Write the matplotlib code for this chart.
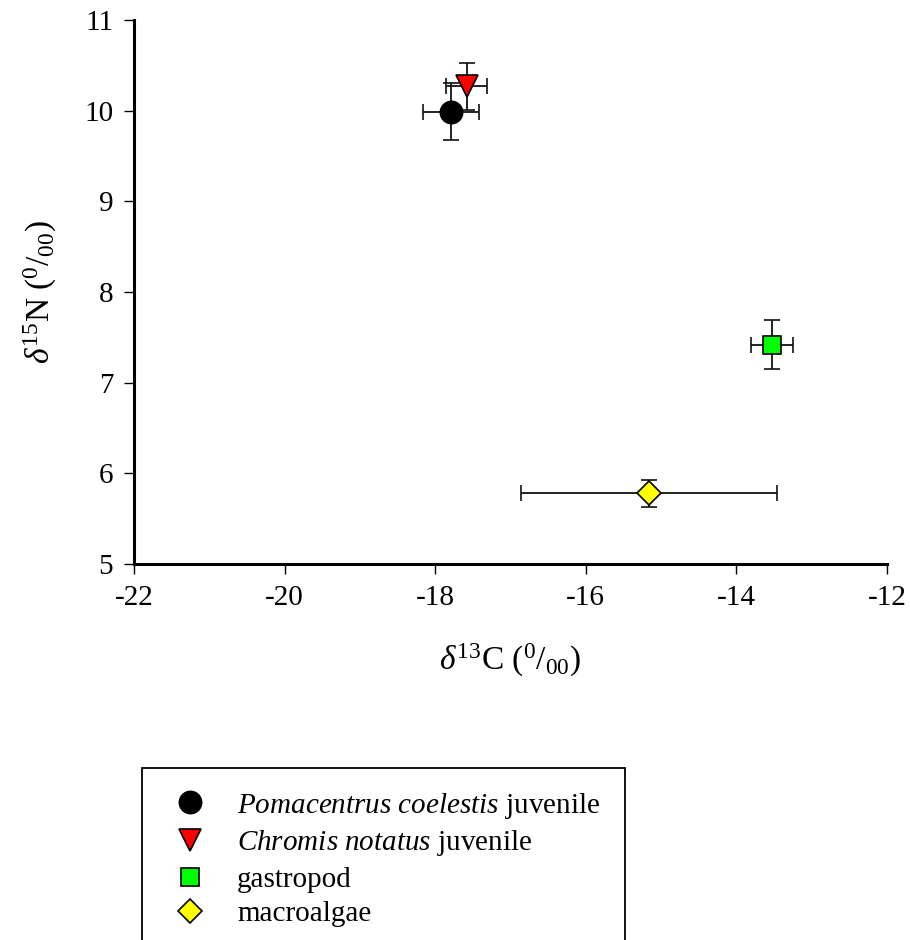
import matplotlib
matplotlib.use("Agg")
import matplotlib.pyplot as plt
from matplotlib.lines import Line2D
from matplotlib.patches import Rectangle

plt.rcParams["font.family"] = ["Liberation Serif", "DejaVu Serif"]
plt.rcParams["mathtext.fontset"] = "custom"
plt.rcParams["mathtext.rm"] = "Liberation Serif"
plt.rcParams["mathtext.it"] = "Liberation Serif:italic"

# ---------------- dados ----------------
grupos = ["Pomacentrus coelestis juvenile", "Chromis notatus juvenile",
          "gastropod", "macroalgae"]
rotulos = [r"$\it{Pomacentrus\ coelestis}$ juvenile",
           r"$\it{Chromis\ notatus}$ juvenile",
           "gastropod", "macroalgae"]
d13c = [-17.79, -17.58, -13.53, -15.16]
d13c_err = [0.37, 0.27, 0.28, 1.70]
d15n = [9.99, 10.27, 7.42, 5.78]
d15n_err = [0.31, 0.26, 0.27, 0.15]
marcadores = ["o", "v", "s", "D"]
cores = ["black", "red", "#00ff00", "yellow"]
tamanhos = [16, 16, 13, 12]
xticks = [-22, -20, -18, -16, -14, -12]
yticks = [5, 6, 7, 8, 9, 10, 11]
# -----------------------------------------------------------

fig = plt.figure(figsize=(9.1, 9.4), dpi=100)
ax = fig.add_axes([134 / 910, 1 - 564 / 940, (887 - 134) / 910, (564 - 20) / 940])

for x, xe, y, ye, m, c, s in zip(d13c, d13c_err, d15n, d15n_err, marcadores, cores, tamanhos):
    ax.errorbar(x, y, xerr=xe, yerr=ye, fmt=m, mfc=c, mec="black", mew=1.2,
                ms=s, ecolor="#111111", elinewidth=1.3, capsize=5.5, capthick=1.3,
                zorder=3)

ax.set_xlim(-22, -12)
ax.set_ylim(5, 11)
ax.set_xticks(xticks)
ax.set_yticks(yticks)
ax.set_xticklabels([str(t) for t in xticks])
ax.set_yticklabels([str(t) for t in yticks])
ax.tick_params(direction="out", length=7, width=1, labelsize=21, pad=8)
for lado in ["top", "right"]:
    ax.spines[lado].set_visible(False)
for lado in ["left", "bottom"]:
    ax.spines[lado].set_linewidth(2.2)

fig.text(510 / 910, 1 - 660 / 940, r"$\delta^{13}$C ($^{0}$/$_{00}$)",
         ha="center", va="center", fontsize=24)
fig.text(40 / 910, 1 - 292 / 940, r"$\delta^{15}$N ($^{0}$/$_{00}$)",
         ha="center", va="center", fontsize=24, rotation=90)

# caixa da legenda (cortada na borda inferior)
fig.patches.append(Rectangle((142 / 910, -0.05), (625 - 142) / 910, 1 - 768 / 940 + 0.05,
                             transform=fig.transFigure, fill=False,
                             edgecolor="black", linewidth=1.3))

handles = [Line2D([], [], ls="none", marker=m, mfc=c, mec="black", mew=1.2, ms=s)
           for m, c, s in zip(marcadores, cores, tamanhos)]
fig.legend(handles, rotulos, loc="upper left", bbox_to_anchor=(154 / 910, 1 - 776 / 940),
           frameon=False, fontsize=21, handlelength=1.5, handletextpad=0.85,
           labelspacing=0.27, borderpad=0)

fig.savefig("out.png", dpi=100)
